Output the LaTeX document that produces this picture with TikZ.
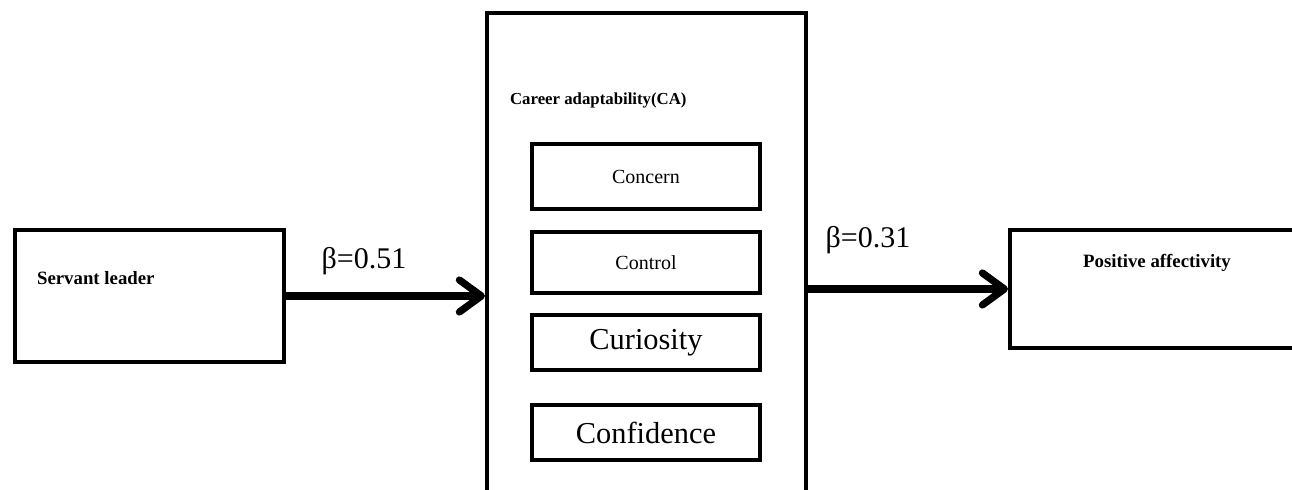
\documentclass[tikz,border=0pt]{standalone}
\usepackage{fontspec}
\setmainfont{Liberation Serif}
\usetikzlibrary{arrows.meta}
\newcommand{\arw}{-{Straight Barb[length=11pt,width=16pt,line cap=round,line join=round]}}
\tikzset{
  box/.style={draw,line width=2pt,inner sep=0pt},
  title/.style={font=\bfseries\fontsize{9.4}{11}\selectfont},
  small/.style={font=\fontsize{10}{12}\selectfont},
  big/.style={font=\fontsize{15.2}{18}\selectfont},
  beta/.style={font=\fontsize{15}{18}\selectfont,anchor=base}
}

\begin{document}
\begin{tikzpicture}[x=.5pt,y=-.5pt]
\useasboundingbox (0,0) rectangle (1292,490);
\clip (0,0) rectangle (1292,490);
%boxes
\node[box,minimum width=134.5pt,minimum height=66pt] (servant) at (149.5,296) {};
\node[box,minimum width=159.5pt,minimum height=253.5pt] (ca) at (646.5,266.5) {};
\node[box,minimum width=154pt,minimum height=59pt] (positive) at (1164,289) {};
%dimensions of CA
\node[box,small,minimum width=114pt,minimum height=32.5pt] (concern) at (646,176.5) {Concern};
\node[box,small,minimum width=114pt,minimum height=30.5pt] (control) at (646,262.5) {Control};
\node[box,big,minimum width=114pt,minimum height=27.5pt] (curiosity) at (646,342.5) {Curiosity};
\node[box,big,minimum width=114pt,minimum height=27.5pt] (confidence) at (646,432.5) {Confidence};
%titles
\node[title,anchor=west] (servanttxt) at (30,278) {Servant leader};
\node[title,font=\bfseries\fontsize{8.4}{10}\selectfont,anchor=west] (catxt) at (503,100) {Career adaptability(CA)};
\node[title] (positivetxt) at (1157,263) {Positive affectivity};
%paths
\draw[line width=3.6pt,\arw] (servant.east) -- (servant.east -| ca.west);
\draw[line width=3.6pt,\arw] (ca.east |- positive.west) -- (positive.west);
\node[beta] (b1) at (364,269) {β=0.51};
\node[beta] (b2) at (868,248) {β=0.31};
\end{tikzpicture}
\end{document}
